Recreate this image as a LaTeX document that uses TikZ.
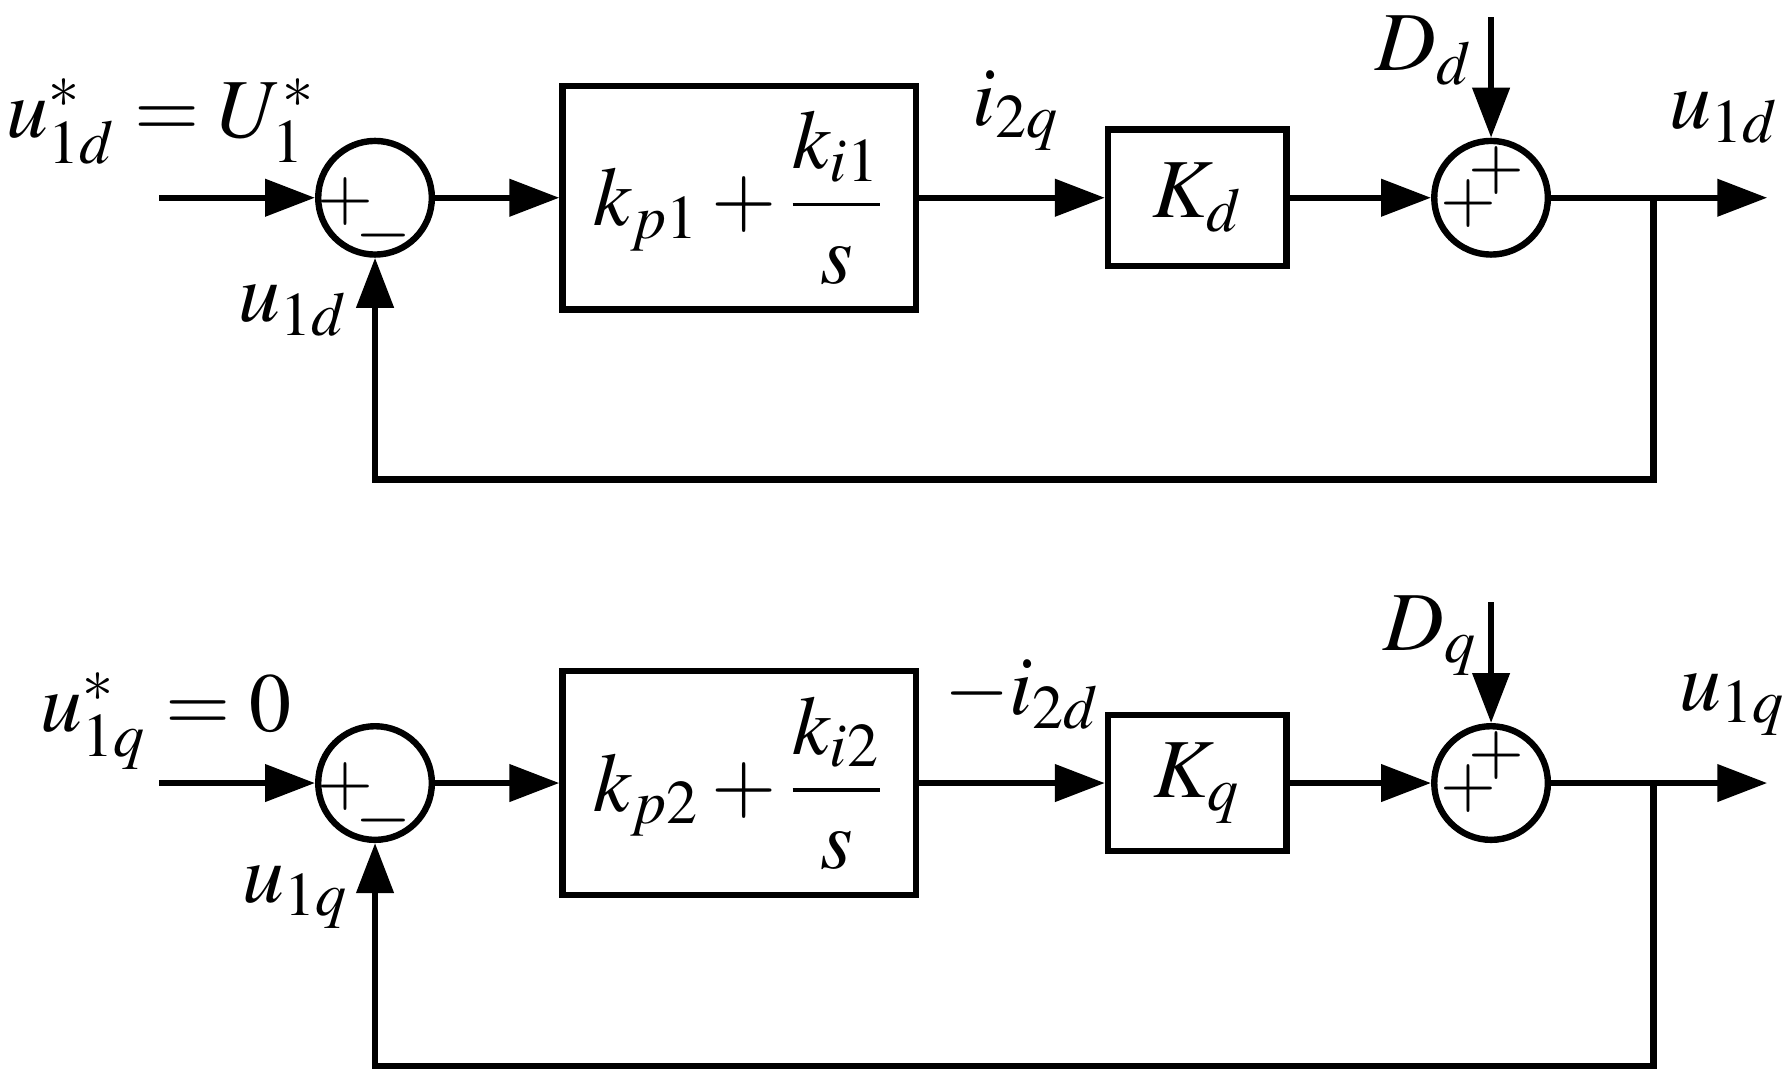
\documentclass[tikz,border=0pt]{standalone}
\usepackage{amsmath}
\usepackage{mathptmx}
\usetikzlibrary{arrows.meta,positioning,calc}
\tikzset{
  sig/.style={line width=1.6pt,-{Triangle[length=0.44cm,width=0.32cm]}},
  blk/.style={draw,line width=1.6pt,inner sep=0pt,font=\fontsize{21}{25}\selectfont},
  sumnode/.style={draw,circle,line width=1.6pt,minimum size=1cm,inner sep=0pt},
  sgn/.style={inner sep=0pt,font=\fontsize{18}{22}\selectfont},
  lbl/.style={inner sep=0pt,anchor=base west,font=\fontsize{21}{25}\selectfont}}

\begin{document}
\begin{tikzpicture}
  \useasboundingbox (0,0) rectangle (15.68,9.52);
  % d-axis loop
  \coordinate (in1) at (1.40,7.78);
  \node[sumnode] (s1) at (3.30,7.78) {};
  \node[blk,minimum width=3.11cm,minimum height=1.97cm] (pi1) at (6.505,7.78) {$k_{p1}+\dfrac{k_{i1}}{s}$};
  \node[blk,minimum width=1.57cm,minimum height=1.20cm] (kd) at (10.535,7.78) {$K_{d}$};
  \node[sumnode] (s2) at (13.12,7.78) {};
  \coordinate (dd) at (13.12,9.37);
  \coordinate (br1) at (14.55,7.78);
  \coordinate (out1) at (15.55,7.78);
  \coordinate (fb1) at (3.30,5.30);
  \node[sgn] (s1p) at ([xshift=-0.26cm,yshift=-0.19cm]s1.center) {$\smash{+}$};
  \node[sgn] (s1m) at ([xshift=0.07cm,yshift=-0.49cm]s1.center) {$\smash{-}$};
  \node[sgn] (s2a) at ([xshift=-0.20cm,yshift=-0.21cm]s2.center) {$\smash{+}$};
  \node[sgn] (s2b) at ([xshift=0.05cm,yshift=0.08cm]s2.center) {$\smash{+}$};
  \draw[sig] (in1) -- (s1);
  \draw[sig] (s1) -- (pi1);
  \draw[sig] (pi1) -- (kd);
  \draw[sig] (kd) -- (s2);
  \draw[sig] (dd) -- (s2);
  \draw[sig] (s2) -- (out1);
  \draw[sig] (br1) |- (fb1) -- (s1);
  \node[lbl] (ref1) at (0.05,8.31) {$u_{1d}^{*}=U_{1}^{*}$};
  \node[lbl,anchor=base east] (fbl1) at (3.07,6.69) {$u_{1d}$};
  \node[lbl] (iq) at (8.55,8.42) {$i_{2q}$};
  \node[lbl] (dl1) at (12.10,8.90) {$D_{d}$};
  \node[lbl] (ol1) at (14.68,8.39) {$u_{1d}$};
  % q-axis loop
  \coordinate (in2) at (1.40,2.63);
  \node[sumnode] (s3) at (3.30,2.63) {};
  \node[blk,minimum width=3.11cm,minimum height=1.97cm] (pi2) at (6.505,2.63) {$k_{p2}+\dfrac{k_{i2}}{s}$};
  \node[blk,minimum width=1.57cm,minimum height=1.20cm] (kq) at (10.535,2.63) {$K_{q}$};
  \node[sumnode] (s4) at (13.12,2.63) {};
  \coordinate (dq) at (13.12,4.22);
  \coordinate (br2) at (14.55,2.63);
  \coordinate (out2) at (15.55,2.63);
  \coordinate (fb2) at (3.30,0.14);
  \node[sgn] (s3p) at ([xshift=-0.26cm,yshift=-0.19cm]s3.center) {$\smash{+}$};
  \node[sgn] (s3m) at ([xshift=0.07cm,yshift=-0.49cm]s3.center) {$\smash{-}$};
  \node[sgn] (s4a) at ([xshift=-0.20cm,yshift=-0.21cm]s4.center) {$\smash{+}$};
  \node[sgn] (s4b) at ([xshift=0.05cm,yshift=0.08cm]s4.center) {$\smash{+}$};
  \draw[sig] (in2) -- (s3);
  \draw[sig] (s3) -- (pi2);
  \draw[sig] (pi2) -- (kq);
  \draw[sig] (kq) -- (s4);
  \draw[sig] (dq) -- (s4);
  \draw[sig] (s4) -- (out2);
  \draw[sig] (br2) |- (fb2) -- (s3);
  \node[lbl] (ref2) at (0.35,3.08) {$u_{1q}^{*}=0$};
  \node[lbl,anchor=base east] (fbl2) at (3.07,1.58) {$u_{1q}$};
  \node[lbl] (id) at (8.30,3.23) {$-i_{2d}$};
  \node[lbl] (dl2) at (12.17,3.80) {$D_{q}$};
  \node[lbl] (ol2) at (14.77,3.27) {$u_{1q}$};
\end{tikzpicture}
\end{document}
